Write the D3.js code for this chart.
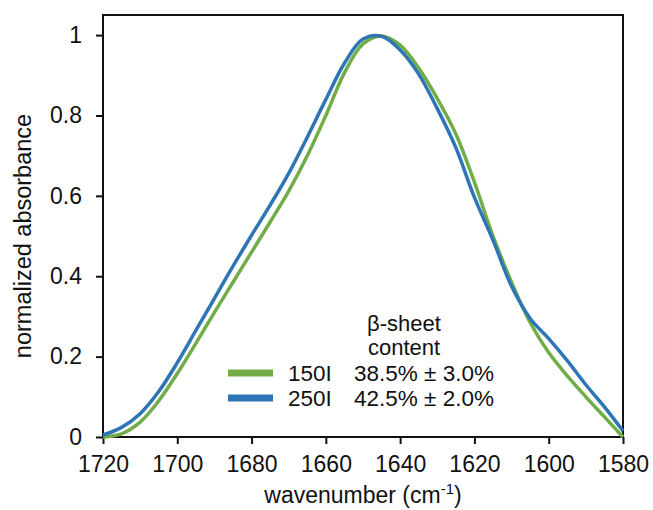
<!DOCTYPE html>
<html>
<head>
<meta charset="utf-8">
<script src="https://cdn.jsdelivr.net/npm/d3@7/dist/d3.min.js"></script>
<style>
  body { margin: 0; background: #fff; }
  svg text { font-family: "Liberation Sans", Arial, sans-serif; fill: #111; }
</style>
</head>
<body>
<div id="chart"></div>
<script>
// wavenumbers (cm-1), read every 5 from the picture
const wavenumbers = [1720, 1715, 1710, 1705, 1700, 1695, 1690, 1685, 1680, 1675,
                     1670, 1665, 1660, 1655, 1650, 1645, 1640, 1635, 1630, 1625,
                     1620, 1615, 1610, 1605, 1600, 1595, 1590, 1585, 1580];
const abs150I = [0.0, 0.008, 0.037, 0.09, 0.158, 0.233, 0.31, 0.385, 0.46, 0.535,
                 0.612, 0.70, 0.80, 0.906, 0.978, 0.998, 0.975, 0.918, 0.842, 0.754,
                 0.634, 0.50, 0.385, 0.285, 0.21, 0.152, 0.10, 0.05, 0.0];
const abs250I = [0.005, 0.024, 0.058, 0.113, 0.185, 0.265, 0.345, 0.425, 0.502, 0.577,
                 0.656, 0.746, 0.84, 0.93, 0.99, 0.997, 0.963, 0.903, 0.817, 0.72,
                 0.596, 0.49, 0.375, 0.295, 0.245, 0.19, 0.13, 0.075, 0.015];
const seriesNames = ["150I", "250I"];
const seriesContent = ["38.5% \u00b1 3.0%", "42.5% \u00b1 2.0%"];
const seriesColors = ["#70ad47", "#2e75b6"];
const xTicks = [1720, 1700, 1680, 1660, 1640, 1620, 1600, 1580];
const yTicks = [0, 0.2, 0.4, 0.6, 0.8, 1];

const margin = { top: 15, right: 30, bottom: 73, left: 103 };
const width = 653 - margin.left - margin.right;
const height = 510 - margin.top - margin.bottom;

const svg = d3.select("#chart")
    .append("svg")
    .attr("width", 653)
    .attr("height", 510)
    .append("g")
    .attr("transform", `translate(${margin.left}, ${margin.top})`);

// escalas (eje x invertido)
const x = d3.scaleLinear().domain([1720, 1580]).range([0, width]);
const y = d3.scaleLinear().domain([0, 1.05]).range([height, 0]);

// marco
svg.append("rect")
    .attr("width", width)
    .attr("height", height)
    .attr("fill", "none")
    .attr("stroke", "#111")
    .attr("stroke-width", 2);

const xAxis = svg.append("g")
    .attr("transform", `translate(0, ${height})`)
    .call(d3.axisBottom(x).tickValues(xTicks).tickSize(7).tickPadding(12).tickFormat(d3.format("d")));

const yAxis = svg.append("g")
    .call(d3.axisLeft(y).tickValues(yTicks).tickSize(7).tickPadding(14).tickFormat(d => d));

[xAxis, yAxis].forEach(a => {
    a.select(".domain").remove();
    a.selectAll(".tick line").attr("stroke", "#111").attr("stroke-width", 2);
    a.selectAll(".tick text").style("font-size", "23px").attr("fill", "#111");
});

// curvas
const series = [abs150I, abs250I].map((vals, i) => ({
    name: seriesNames[i],
    color: seriesColors[i],
    points: wavenumbers.map((w, j) => ({ w, v: vals[j] }))
}));

const line = d3.line()
    .x(d => x(d.w))
    .y(d => y(d.v))
    .curve(d3.curveCatmullRom.alpha(0.5));

svg.selectAll(".spectrum")
    .data(series)
    .enter()
    .append("path")
    .attr("class", "spectrum")
    .attr("d", d => line(d.points))
    .attr("fill", "none")
    .attr("stroke", d => d.color)
    .attr("stroke-width", 3.5)
    .attr("stroke-linejoin", "round");

// leyenda
const legend = svg.append("g").attr("transform", "translate(125, 0)");
legend.append("text")
    .attr("x", 176).attr("y", 316)
    .attr("text-anchor", "middle")
    .style("font-size", "22px")
    .text("\u03b2-sheet");
legend.append("text")
    .attr("x", 176).attr("y", 340)
    .attr("text-anchor", "middle")
    .style("font-size", "22px")
    .text("content");

series.forEach((s, i) => {
    const yy = 358 + i * 25;
    legend.append("line")
        .attr("x1", 0).attr("x2", 45)
        .attr("y1", yy).attr("y2", yy)
        .attr("stroke", s.color)
        .attr("stroke-width", 7);
    legend.append("text")
        .attr("x", 60).attr("y", yy + 8)
        .style("font-size", "22.5px")
        .text(s.name);
    legend.append("text")
        .attr("x", 126).attr("y", yy + 8)
        .style("font-size", "22.5px")
        .text(seriesContent[i]);
});

// títulos de los ejes
svg.append("text")
    .attr("transform", "rotate(-90)")
    .attr("x", -(height / 2 + 10))
    .attr("y", -72)
    .attr("text-anchor", "middle")
    .style("font-size", "23.5px")
    .text("normalized absorbance");

const xTitle = svg.append("text")
    .attr("x", width / 2)
    .attr("y", height + 66)
    .attr("text-anchor", "middle")
    .style("font-size", "23px");
xTitle.append("tspan").text("wavenumber (cm");
xTitle.append("tspan").attr("dy", -9).style("font-size", "15px").text("-1");
xTitle.append("tspan").attr("dy", 9).text(")");
</script>
</body>
</html>
